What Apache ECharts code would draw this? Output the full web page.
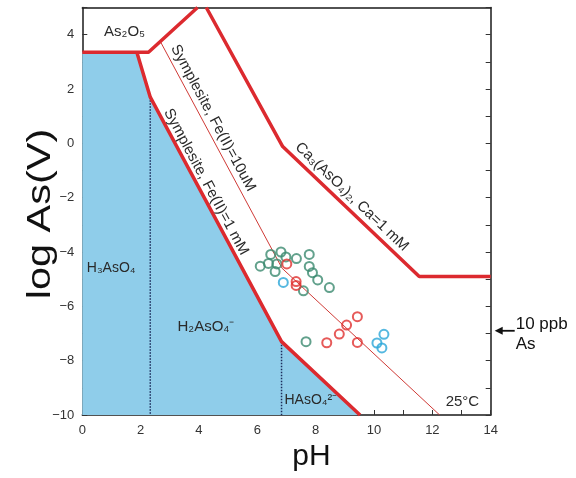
<!DOCTYPE html>
<html><head><meta charset="utf-8">
<script src="https://cdn.jsdelivr.net/npm/echarts@6/dist/echarts.min.js"></script>
<style>html,body{margin:0;padding:0;background:#fff}#c{width:576px;height:478px}</style>
</head><body><div id="c"></div>
<script>
const FONT = '"Liberation Sans", Arial, Helvetica, sans-serif';
// axes
const xMin = 0, xMax = 14;
const yMin = -10, yMax = 5;
const xLabelValues = [0, 2, 4, 6, 8, 10, 12, 14];
const yLabelValues = [-10, -8, -6, -4, -2, 0, 2, 4];
// stability-field boundaries (pH, log As(V))
const h3aso4Field = [[0, 3.35], [1.87, 3.35], [2.33, 1.7], [6.83, -7.3], [9.52, -10]];
const as2o5Boundary = [[0, 3.35], [2.27, 3.35], [3.95, 5]];
const symplesite1mM = [[1.87, 3.35], [2.33, 1.7], [6.83, -7.3], [9.52, -10]];
const symplesite10uM = [[2.673, 3.753], [6.85, -4.6], [12.25, -10]];
const caArsenate1mM = [[4.25, 5], [6.87, -0.12], [11.55, -4.9], [14, -4.9]];
const pKa1Line = [[2.33, 1.7], [2.33, -10]];
const pKa2Line = [[6.83, -7.3], [6.83, -10]];
// water samples
const greenSamples = [[6.46, -4.09], [6.81, -4.0], [6.98, -4.18], [7.34, -4.24], [7.78, -4.09], [6.10, -4.52], [6.38, -4.42], [6.67, -4.44], [6.61, -4.72], [7.78, -4.53], [7.89, -4.76], [8.07, -5.03], [7.58, -5.43], [8.47, -5.31], [7.67, -7.30]];
const redSamples = [[7.01, -4.44], [7.33, -5.09], [7.33, -5.23], [9.43, -6.38], [9.06, -6.69], [8.81, -7.02], [8.38, -7.34], [9.43, -7.33]];
const cyanSamples = [[6.89, -5.12], [10.34, -7.03], [10.10, -7.35], [10.27, -7.53]];
const limit10ppb = -6.9;

const RED = '#dc2a2f';
const fmtNum = v => (v < 0 ? '\u2212' + Math.abs(v) : String(v));

function boundary(data, color, width, type, z) {
  return { type: 'line', data, symbol: 'none', silent: true, animation: false, clip: true, z,
    lineStyle: { color, width, type: type || 'solid' } };
}
function samples(data, color) {
  return { type: 'scatter', data, symbol: 'circle', symbolSize: 9, z: 10, animation: false,
    itemStyle: { color: 'rgba(0,0,0,0)', borderColor: color, borderWidth: 2 } };
}
const frameLine = { show: true, onZero: false, lineStyle: { color: '#1a1a1a', width: 1.5 } };
const tick = { show: true, inside: true, length: 5, lineStyle: { color: '#333', width: 1 } };

const option = {
  animation: false,
  textStyle: { fontFamily: FONT },
  grid: { left: 82.3, right: 85.3, top: 7.5, bottom: 63, containLabel: false },
  xAxis: [
    { type: 'value', min: xMin, max: xMax, interval: 1, position: 'bottom', axisLine: frameLine, axisTick: tick,
      splitLine: { show: false },
      axisLabel: { margin: 9, fontSize: 13, color: '#333', fontFamily: FONT,
        formatter: v => (xLabelValues.includes(v) ? fmtNum(v) : '') } },
    { type: 'value', min: xMin, max: xMax, interval: 1, position: 'top', axisLine: frameLine,
      axisTick: { show: false }, axisLabel: { show: false }, splitLine: { show: false } }
  ],
  yAxis: [
    { type: 'value', min: yMin, max: yMax, interval: 1, position: 'left', axisLine: frameLine, axisTick: tick,
      splitLine: { show: false },
      axisLabel: { margin: 8, fontSize: 13, color: '#333', fontFamily: FONT,
        formatter: v => (yLabelValues.includes(v) ? fmtNum(v) : '') } },
    { type: 'value', min: yMin, max: yMax, interval: 1, position: 'right', axisLine: frameLine, axisTick: tick,
      axisLabel: { show: false }, splitLine: { show: false } }
  ],
  series: [
    { type: 'line', data: h3aso4Field, symbol: 'none', silent: true, z: 1,
      lineStyle: { width: 0 }, areaStyle: { color: '#8fcdea', opacity: 1, origin: 'start' } },
    boundary(pKa1Line, '#1c2d5c', 1.5, 'dotted', 2),
    boundary(pKa2Line, '#1c2d5c', 1.5, 'dotted', 2),
    boundary(symplesite10uM, '#cf3a36', 1, 'solid', 3),
    boundary(as2o5Boundary, RED, 3.5, 'solid', 4),
    boundary(symplesite1mM, RED, 3.5, 'solid', 4),
    boundary(caArsenate1mM, RED, 3.5, 'solid', 4),
    samples(greenSamples, '#3b8a6f'),
    samples(redSamples, '#e0312f'),
    samples(cyanSamples, '#2aa6d8')
  ]
};

const chart = echarts.init(document.getElementById('c'), null, { renderer: 'canvas' });
chart.setOption(option);

const P = (x, y) => chart.convertToPixel({ xAxisIndex: 0, yAxisIndex: 0 }, [x, y]);
const TXT = '#2a2a2a';
function label(text, pos, size, opts) {
  opts = opts || {};
  return { type: 'text', x: pos[0], y: pos[1], rotation: opts.rot || 0,
    scaleX: opts.sx || 1, scaleY: 1, z: 20, silent: true,
    style: { text, fontSize: size, fontFamily: FONT, fill: opts.color || TXT,
      align: opts.align || 'center', verticalAlign: 'middle' } };
}
const deg = d => d * Math.PI / 180;
const arrowPt = P(xMax, limit10ppb);
const ay = arrowPt[1];
const ax = arrowPt[0] + 4;

chart.setOption({
  graphic: [
    label('As\u2082O\u2085', P(1.45, 4.12), 15),
    label('H\u2083AsO\u2084', P(0.99, -4.59), 14),
    label('H\u2082AsO\u2084\u207b', P(4.24, -6.74), 15),
    label('HAsO\u2084\u00b2\u207b', P(6.93, -9.45), 14, { align: 'left' }),
    label('25\u00b0C', P(13.03, -9.52), 15),
    label('Symplesite, Fe(II)=10uM', P(4.48, 0.93), 15, { rot: deg(-61.8) }),
    label('Symplesite, Fe(II)=1 mM', P(4.24, -1.42), 15, { rot: deg(-61.8) }),
    label('Ca\u2083(AsO\u2084)\u2082, Ca=1 mM', P(9.24, -1.97), 15, { rot: deg(-43.6) }),
    label('log As(V)', [41, 214], 34, { rot: deg(90), sx: 1.22, color: '#111' }),
    label('pH', [311.5, 457], 30, { color: '#111' }),
    label('10 ppb', [ax + 21, ay - 6], 17, { align: 'left', color: '#111' }),
    label('As', [ax + 21, ay + 14], 17, { align: 'left', color: '#111' }),
    { type: 'line', z: 20, silent: true, shape: { x1: ax + 5, y1: ay, x2: ax + 20, y2: ay },
      style: { stroke: '#111', lineWidth: 1.8 } },
    { type: 'polygon', z: 20, silent: true,
      shape: { points: [[ax, ay], [ax + 8, ay - 4], [ax + 8, ay + 4]] }, style: { fill: '#111' } }
  ]
});
</script>
</body></html>
